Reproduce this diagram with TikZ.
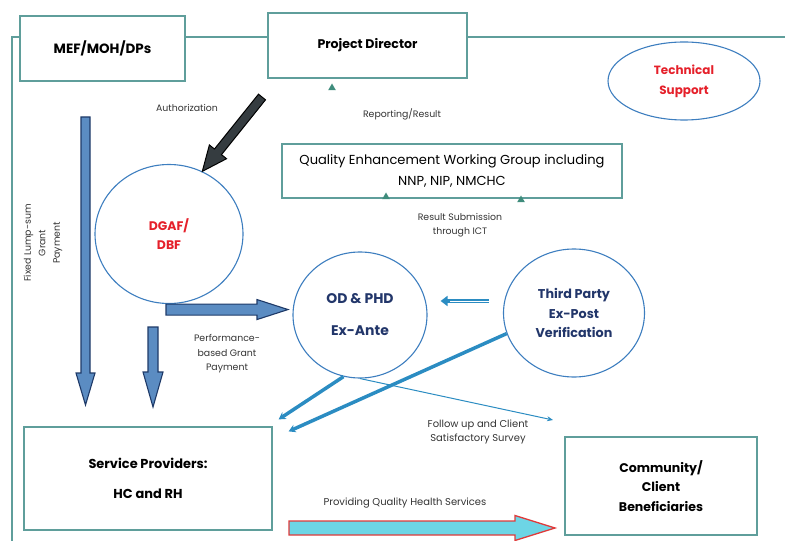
\documentclass[tikz,border=0pt]{standalone}
\usepackage{fontspec}
\setmainfont{Poppins}
\usetikzlibrary{positioning,arrows.meta,calc,shapes.geometric}
\definecolor{boxteal}{HTML}{5F9E9B}
\definecolor{ringblue}{HTML}{3D7EBF}
\definecolor{flowblue}{HTML}{5B8CC2}
\definecolor{flownavy}{HTML}{1F3A68}
\definecolor{linkblue}{HTML}{2B8CC2}
\definecolor{darkflow}{HTML}{353C40}
\definecolor{tipteal}{HTML}{3F8C7C}
\definecolor{labred}{HTML}{E5202A}
\definecolor{labnavy}{HTML}{22366A}
\definecolor{servcyan}{HTML}{6DD5E5}
\definecolor{servred}{HTML}{E03A3A}

% fat arrow: style, from, to, shaft half width, head half width, head length
\newcommand{\blockarrow}[6]{%
  \coordinate (ba-s) at (#2);
  \coordinate (ba-t) at (#3);
  \coordinate (ba-h) at ($(ba-t)!#6!(ba-s)$);
  \path[#1] ($(ba-s)!#4!90:(ba-t)$) -- ($(ba-h)!#4!-90:(ba-s)$)
    -- ($(ba-h)!#5!-90:(ba-s)$) -- (ba-t) -- ($(ba-h)!#5!90:(ba-s)$)
    -- ($(ba-h)!#4!90:(ba-s)$) -- ($(ba-s)!#4!-90:(ba-t)$) -- cycle;}

\begin{document}
\begin{tikzpicture}[x=1bp,y=-1bp,
  tbox/.style={draw=boxteal,line width=1.2bp,align=center,inner sep=2bp},
  ring/.style={ellipse,draw=ringblue,line width=1.1bp,align=center,inner sep=0pt},
  tri/.style={regular polygon,regular polygon sides=3,fill=tipteal,inner sep=0pt,
    minimum size=9bp},
  note/.style={font=\fontsize{9.4}{14.5}\selectfont,text=black!80,align=center},
  flow/.style={fill=flowblue,draw=flownavy,line width=1.1bp},
  link/.style={draw=linkblue,line width=3.5bp,-{Stealth[length=7bp,width=8bp]}}]
  \useasboundingbox (0,0) rectangle (785,541);
  % boxes
  \node[tbox,minimum width=165bp,minimum height=65bp,
    font=\fontsize{13.5}{16}\selectfont\bfseries] (mef) at (102.5,48.5) {MEF/MOH/DPs};
  \node[tbox,minimum width=199bp,minimum height=65bp,
    font=\fontsize{12.6}{16}\selectfont\bfseries] (pd) at (367.5,45.5) {Project Director};
  \node[tbox,minimum width=340bp,minimum height=54bp,
    font=\fontsize{13.1}{20.5}\selectfont] (qewg) at (452,171)
    {Quality Enhancement Working Group including\\NNP, NIP, NMCHC};
  \node[tbox,minimum width=248bp,minimum height=103bp,
    font=\fontsize{13}{30}\selectfont\bfseries] (sp) at (148,478.5)
    {Service Providers:\\HC and RH};
  \node[tbox,minimum width=192bp,minimum height=98bp,
    font=\fontsize{12.6}{19.5}\selectfont\bfseries] (comm) at (661,486)
    {Community/\\Client\\Beneficiaries};
  % outer frame
  \coordinate (topline) at (0,37);
  \draw[boxteal,line width=1.2bp] (12,541) -- (12,37) -- (mef.west |- topline);
  \draw[boxteal,line width=1.2bp] (mef.east |- topline) -- (pd.west |- topline);
  \draw[boxteal,line width=1.2bp] (pd.east |- topline) -- (785,37);
  % ellipses
  \node[ring,minimum width=152bp,minimum height=78bp,text=labred,
    font=\fontsize{12}{20}\selectfont\bfseries] (ts) at (684,81) {Technical\\Support};
  \node[ring,minimum width=148bp,minimum height=139bp,text=labred,
    font=\fontsize{12.5}{19}\selectfont\bfseries] (dgaf) at (169,234) {DGAF/\\DBF};
  \node[ring,minimum width=134bp,minimum height=126bp,text=labnavy,
    font=\fontsize{14}{32}\selectfont\bfseries] (od) at (360,315) {OD \& PHD\\Ex-Ante};
  \node[ring,minimum width=141bp,minimum height=128bp,text=labnavy,
    font=\fontsize{12.8}{19.5}\selectfont\bfseries] (tp) at (574,313)
    {Third Party\\Ex-Post\\Verification};
  % arrowheads without shafts
  \node[tri] (tri-pd) at (332,88) {};
  \node[tri] (tri-a) at (386,197) {};
  \node[tri] (tri-b) at (521,200) {};
  % labels
  \node[note] (auth) at (187,108) {Authorization};
  \node[note] (rep) at (402,114) {Reporting/Result};
  \node[note] (ict) at (460,225) {Result Submission\\through ICT};
  \node[note,rotate=90] (lump) at (43,243) {Fixed Lump-sum\\Grant\\Payment};
  \node[note] (perf) at (227,354) {Performance-\\based Grant\\Payment};
  \node[note,font=\fontsize{10}{15}\selectfont] (fol) at (478,432)
    {Follow up and Client\\Satisfactory Survey};
  \node[note,font=\fontsize{10}{15}\selectfont] (qhs) at (405,503)
    {Providing Quality Health Services};
  % fat arrows
  \blockarrow{fill=darkflow,draw=black,line width=1bp}{262,97}{dgaf.62}{4.5bp}{11bp}{25bp}
  \blockarrow{flow}{85.5,117}{85.5,405}{4.5bp}{9.5bp}{32bp}
  \blockarrow{flow}{153,327}{153,407}{5bp}{10bp}{35bp}
  \blockarrow{flow}{$(dgaf.south)+(-3,5.5)$}{$(dgaf.south)+(119,5.5)$}{5.5bp}{10bp}{31bp}
  \blockarrow{fill=servcyan,draw=servred,line width=1.3bp}{289,528}{555,528}{7bp}{12.5bp}{40bp}
  % thin connectors
  \draw[draw=linkblue,line width=4bp,-{Triangle[length=7bp,width=10bp]}]
    ($(tp.west)+(-14,-12)$) -- ($(od.east)+(13,-14)$);
  \draw[white,line width=0.8bp,shorten >=9bp]
    ($(tp.west)+(-14,-12)$) -- ($(od.east)+(13,-14)$);
  \draw[link] (od.255) -- ($(sp.north east)+(6,-7)$);
  \draw[link] (tp.197) -- ($(sp.north east)+(16,5)$);
  \draw[linkblue,line width=1bp,-{Stealth[length=6bp,width=5bp]}]
    (od.south) -- (553,420);
\end{tikzpicture}
\end{document}
